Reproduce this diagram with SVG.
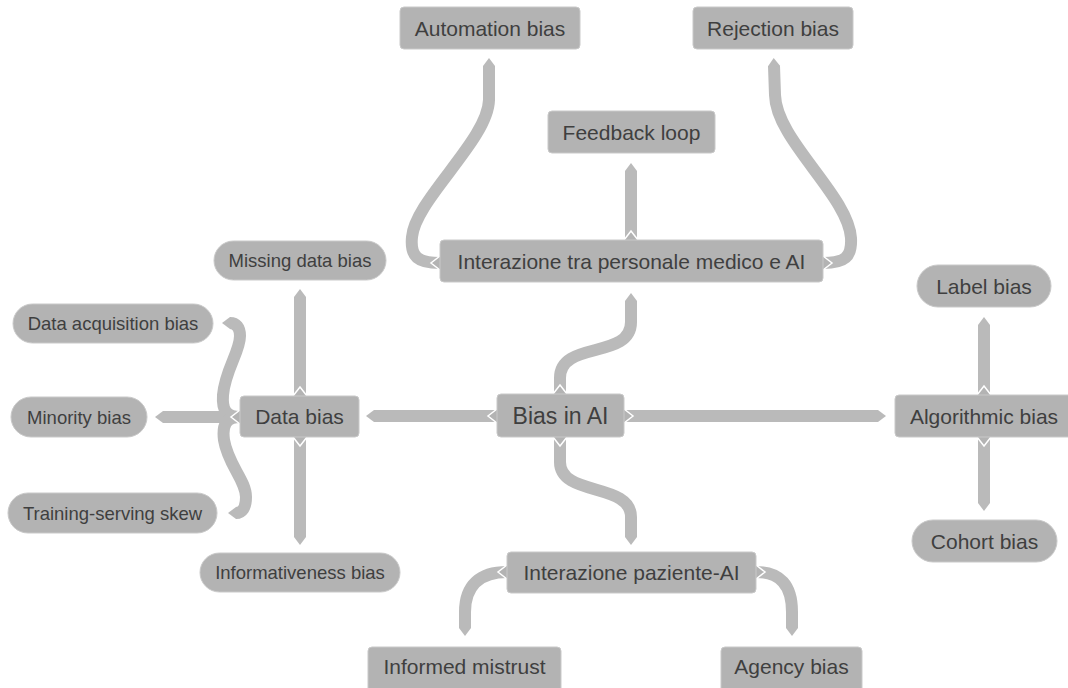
<svg xmlns="http://www.w3.org/2000/svg" width="1068" height="688" viewBox="0 0 1068 688">
<style>
.n{fill:#b3b3b3;stroke:#c9c9c9;stroke-width:1}
.t{font-family:"Liberation Sans",Arial,sans-serif;fill:#3f3f3f;text-anchor:middle}
.m{font-size:21px}
.s{font-size:18.5px}
.c{fill:none;stroke:#bababa;stroke-width:12;stroke-linecap:butt;marker-start:url(#tail);marker-end:url(#tip)}
</style>
<defs>
<marker id="tip" markerUnits="userSpaceOnUse" orient="auto" refX="0" refY="0" markerWidth="20" markerHeight="20" overflow="visible">
<path d="M-1,-6 L0,-6 L8,0 L0,6 L-1,6 Z" fill="#bababa"/>
</marker>
<marker id="tail" markerUnits="userSpaceOnUse" orient="auto" refX="0" refY="0" markerWidth="20" markerHeight="20" overflow="visible">
<path d="M0,-7 L9,0 L0,7 Z" fill="#b3b3b3"/>
<path d="M0,-7 L9,0 L0,7" fill="none" stroke="#ffffff" stroke-width="1.5"/>
</marker>
</defs>
<rect width="1068" height="688" fill="#ffffff"/>
<g id="connectors">
<path class="c" d="M497 416 L374 416"/>
<path class="c" d="M624 416 L878 416"/>
<path class="c" d="M560 394 L560 378 C560 340 631 360 631 322 L631 301"/>
<path class="c" d="M560 437 L560 462 C560 497 631 482 631 517 L631 537"/>
<path class="c" d="M300 396 L300 297"/>
<path class="c" d="M300 437 L300 537"/>
<path class="c" d="M240 417 L163 417"/>
<path class="c" d="M240 417 C226 417 222 410 223 395 C225 370 240 352 240 336 C240 327 236 323 230 323"/>
<path class="c" d="M240 417 C226 417 222 425 224 440 C228 465 246 480 246 497 C246 508 242 513 236 513"/>
<path class="c" d="M984 395 L984 325"/>
<path class="c" d="M984 437 L984 503"/>
<path class="c" d="M631 240 L631 171"/>
<path class="c" d="M440 263 C418 263 410 257 412 237 C415 200 488 140 489 100 L489 66"/>
<path class="c" d="M823 263 C845 263 852 257 851 238 C848 195 776 140 775 95 L774 66"/>
<path class="c" d="M507 572 C480 572 465 585 465 612 L465 628"/>
<path class="c" d="M756 572 C780 572 792 585 792 612 L792 628"/>
</g>
<g id="automation-bias"><rect class="n" x="400" y="7" width="180" height="42" rx="4"/><text class="t m" x="490" y="35.5">Automation bias</text></g>
<g id="rejection-bias"><rect class="n" x="693" y="7" width="160" height="42" rx="4"/><text class="t m" x="773" y="35.5">Rejection bias</text></g>
<g id="feedback-loop"><rect class="n" x="548" y="111" width="167" height="42" rx="4"/><text class="t m" x="631.5" y="139.5">Feedback loop</text></g>
<g id="interazione-personale"><rect class="n" x="440" y="240" width="383" height="42" rx="4"/><text class="t m" x="631.5" y="268.5">Interazione tra personale medico e AI</text></g>
<g id="missing-data-bias"><rect class="n" x="214" y="241" width="172" height="39" rx="19.5"/><text class="t s" x="300" y="267">Missing data bias</text></g>
<g id="data-acquisition-bias"><rect class="n" x="13" y="304" width="200" height="39" rx="19.5"/><text class="t s" x="113" y="330">Data acquisition bias</text></g>
<g id="minority-bias"><rect class="n" x="11" y="397" width="136" height="40" rx="20"/><text class="t s" x="79" y="423.5">Minority bias</text></g>
<g id="training-serving-skew"><rect class="n" x="8" y="493" width="209" height="40" rx="20"/><text class="t s" x="112.5" y="519.5">Training-serving skew</text></g>
<g id="data-bias"><rect class="n" x="240" y="396" width="119" height="41" rx="4"/><text class="t m" x="299.5" y="424">Data bias</text></g>
<g id="informativeness-bias"><rect class="n" x="200" y="553" width="200" height="39" rx="19.5"/><text class="t s" x="300" y="579">Informativeness bias</text></g>
<g id="bias-in-ai"><rect class="n" x="497" y="394" width="127" height="43" rx="4"/><text class="t" style="font-size:23px" x="560.5" y="424">Bias in AI</text></g>
<g id="algorithmic-bias"><rect class="n" x="895" y="395" width="180" height="42" rx="4"/><text class="t m" x="984" y="423.5">Algorithmic bias</text></g>
<g id="label-bias"><rect class="n" x="917" y="265" width="134" height="42" rx="21"/><text class="t m" x="984" y="293.5">Label bias</text></g>
<g id="cohort-bias"><rect class="n" x="912" y="520" width="145" height="42" rx="21"/><text class="t m" x="984.5" y="548.5">Cohort bias</text></g>
<g id="interazione-paziente"><rect class="n" x="507" y="552" width="249" height="41" rx="4"/><text class="t m" x="631.5" y="580">Interazione paziente-AI</text></g>
<g id="informed-mistrust"><rect class="n" x="368" y="647" width="193" height="45" rx="4"/><text class="t m" x="464.5" y="673.5">Informed mistrust</text></g>
<g id="agency-bias"><rect class="n" x="721" y="647" width="141" height="45" rx="4"/><text class="t m" x="791.5" y="673.5">Agency bias</text></g>
</svg>
